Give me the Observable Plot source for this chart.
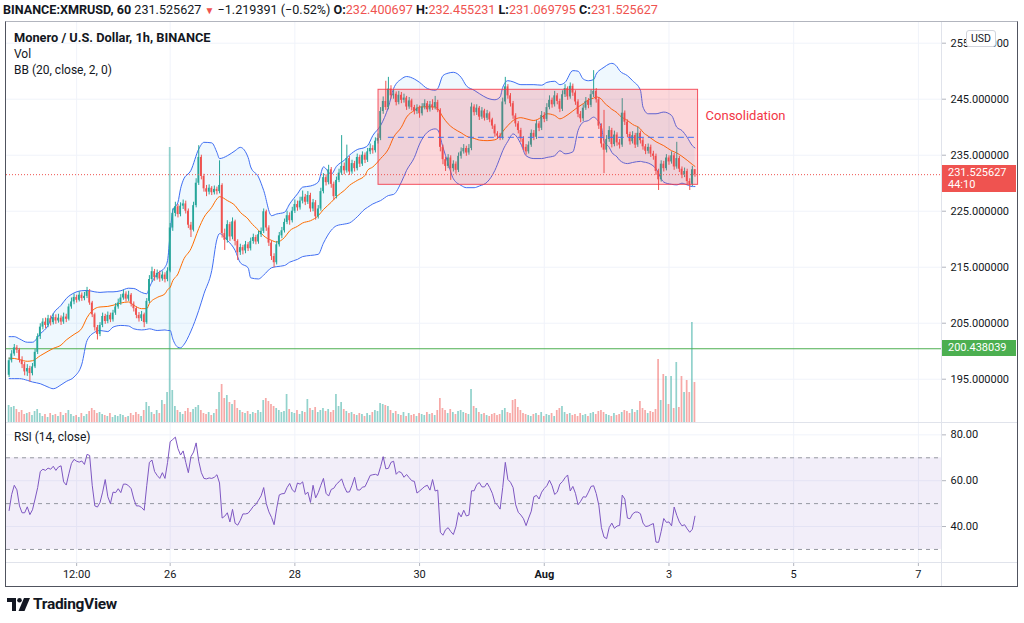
<!DOCTYPE html>
<html><head><meta charset="utf-8">
<script src="https://cdn.jsdelivr.net/npm/d3@7"></script>
<script src="https://cdn.jsdelivr.net/npm/@observablehq/plot@0.6"></script>
<style>
body{margin:0;background:#fff;font-family:Roboto,"Open Sans",sans-serif;color:#131722}
#wrap{position:relative;width:1024px;height:623px;overflow:hidden;background:#fff}
#wrap svg.plot{position:absolute;left:0;top:0}
.abs{position:absolute;white-space:nowrap}
.r{color:#ef5350}
</style></head><body><div id="wrap"></div>
<script>
// ---------- DATA ----------
const symbolTitle = "Monero / U.S. Dollar, 1h, BINANCE";
const headerParts = ["BINANCE:XMRUSD, 60", "231.525627", "\u22121.219391 (\u22120.52%)", "232.400697", "232.455231", "231.069795", "231.525627"];
const firstTime = "2021-07-23T10:00:00Z";     // first hourly candle
const firstOpen = 195.7;
const close = [
198.3,199.5,200.6,200.2,198.4,197.6,196.3,196.9,196.0,197.2,
199.8,202.6,204.3,205.2,204.6,205.8,205.1,206.0,205.4,205.9,
205.2,206.1,205.7,207.9,208.8,209.6,209.1,210.0,209.4,209.8,
210.7,208.6,206.5,204.2,203.0,204.6,206.2,205.3,206.4,205.6,
206.8,207.9,208.6,209.5,210.2,209.3,210.0,208.4,207.6,206.4,
205.8,206.5,205.1,208.9,212.8,214.2,213.1,213.9,212.9,213.6,
212.8,214.3,222.0,224.6,225.8,224.4,225.9,226.3,225.0,222.5,
221.6,226.0,230.0,234.6,231.2,229.0,228.4,229.1,228.3,228.9,
228.5,229.6,221.0,219.8,222.6,220.4,223.1,219.6,217.6,218.5,
217.9,219.0,218.3,219.6,220.3,219.5,220.8,221.4,224.9,222.0,
219.3,216.9,215.8,219.0,220.6,221.5,223.0,224.2,223.3,225.0,
226.2,225.6,226.8,227.5,226.6,227.8,225.4,226.5,224.0,225.4,
228.5,231.0,230.1,232.4,229.8,227.6,230.5,231.8,233.0,232.2,
234.4,232.0,233.5,232.6,234.6,233.4,235.0,234.1,235.6,236.2,
235.8,237.5,238.0,242.8,244.6,243.5,246.8,245.6,245.9,244.4,
245.7,244.8,245.2,243.6,244.7,243.5,242.8,243.4,242.4,243.6,
244.2,243.1,244.0,243.5,244.4,243.0,236.4,234.2,233.0,234.5,
232.6,233.4,232.3,234.8,235.6,236.2,235.4,236.2,243.6,242.6,
243.4,241.8,242.9,241.6,242.4,241.3,240.2,238.8,238.4,238.1,
244.5,247.2,245.6,244.2,242.0,240.6,239.4,237.9,236.4,235.6,
236.8,238.9,238.2,240.6,239.8,242.1,241.4,243.5,244.8,244.0,
245.6,244.6,243.2,245.8,246.9,245.4,247.3,246.1,244.5,242.3,
241.5,243.4,244.6,243.9,245.8,246.4,244.9,240.2,237.0,235.9,
237.8,239.4,236.9,238.6,237.2,236.8,242.5,240.9,238.7,237.4,
238.5,236.8,238.9,237.6,236.5,235.7,236.4,235.2,234.8,232.1,
230.6,233.4,232.6,234.5,233.8,234.9,232.9,234.4,232.5,231.4,
232.1,230.3,229.8,232.400697,231.525627];
const high = [
198.8,200.1,201.2,201.0,200.5,199.0,198.0,197.6,197.3,197.8,
200.3,203.1,204.9,205.8,205.9,206.4,206.3,206.7,206.5,206.6,
206.3,206.8,206.6,208.4,209.5,210.2,210.0,210.6,210.4,210.5,
211.4,211.0,208.9,206.8,204.6,205.1,206.8,206.6,207.0,206.8,
207.3,208.5,209.3,210.1,210.9,210.6,210.7,210.3,208.8,207.9,
206.9,207.1,206.8,209.4,213.5,215.0,214.6,214.5,214.3,214.2,
214.0,214.9,222.8,225.4,226.6,226.2,226.5,227.0,226.8,225.4,
223.0,226.6,230.8,236.7,235.0,231.6,229.6,229.7,229.4,229.5,
229.3,234.0,229.9,221.8,223.3,223.0,223.8,223.4,219.9,219.1,
218.9,219.6,219.4,220.2,220.9,220.7,221.4,222.0,225.4,225.2,
222.4,219.7,217.4,219.6,221.2,222.1,223.6,225.0,224.7,225.7,
227.0,226.8,227.5,228.6,228.0,228.5,228.2,227.1,226.9,226.0,
229.1,231.7,231.5,233.2,232.8,230.2,231.1,232.5,238.5,233.6,
236.8,234.8,234.1,233.9,235.2,235.0,235.6,235.4,236.2,237.0,
236.7,238.1,238.8,243.5,245.4,248.2,248.9,247.4,246.6,246.3,
246.4,246.2,245.9,245.5,245.3,245.0,243.9,244.0,243.8,244.2,
244.9,244.6,244.6,244.9,245.5,244.8,243.3,236.8,234.6,235.1,
234.9,234.0,233.8,235.4,236.3,236.9,236.6,236.9,244.3,244.0,
244.0,243.7,243.5,243.2,243.0,242.7,241.6,240.5,239.2,238.9,
245.2,248.9,247.6,246.0,244.6,242.4,241.0,239.8,238.3,236.9,
237.4,239.5,239.4,241.2,241.0,242.8,242.6,244.2,245.6,245.2,
246.4,246.0,245.0,246.5,247.6,247.2,247.9,247.7,246.5,244.9,
242.8,244.0,245.3,245.1,246.6,250.1,246.9,245.3,240.6,243.0,
238.5,240.1,239.8,239.3,239.0,237.8,245.1,242.9,241.3,239.1,
239.2,238.9,240.0,239.3,238.0,236.9,237.0,236.8,235.7,235.2,
232.5,234.0,233.9,235.1,234.9,235.6,235.3,237.3,234.8,232.9,
232.7,232.5,230.8,233.0,232.455231];
const low = [
195.3,197.9,199.1,199.6,197.9,196.9,195.6,195.5,194.5,195.6,
196.9,199.4,202.1,203.8,204.0,204.2,204.5,204.7,204.8,205.0,
204.6,204.8,205.1,205.4,207.5,208.3,208.6,208.8,208.9,209.0,
209.4,208.2,206.0,203.6,202.0,202.6,204.2,204.8,204.9,205.1,
205.2,206.4,207.5,208.2,209.1,208.8,208.9,207.9,207.0,205.8,
205.2,205.3,204.2,204.8,208.5,212.3,212.5,212.7,212.3,212.5,
212.2,212.4,214.0,221.4,224.0,223.8,224.0,225.3,224.5,221.9,
220.3,221.3,225.6,229.6,230.6,228.4,227.6,227.9,227.8,227.9,
227.9,228.1,220.2,218.0,219.3,219.6,219.9,218.8,216.2,217.1,
217.2,217.4,217.8,217.9,219.1,219.0,219.1,220.3,221.0,221.4,
218.7,216.2,214.9,215.4,218.6,220.1,221.1,222.6,222.5,222.9,
224.6,225.0,225.2,226.3,226.0,226.2,224.8,224.9,223.4,223.6,
225.0,228.1,229.5,229.7,229.1,226.9,227.2,230.1,231.4,231.5,
231.8,231.4,231.6,232.0,232.2,232.8,233.0,233.5,233.7,235.1,
235.2,235.4,237.0,237.6,242.3,243.0,243.1,245.0,245.0,243.8,
244.0,244.2,244.3,243.0,243.2,242.9,242.2,242.3,241.6,242.0,
243.1,242.6,242.7,243.0,243.1,242.6,235.6,233.3,232.1,232.6,
230.5,232.0,231.6,231.9,234.3,235.2,234.8,235.0,235.8,242.0,
242.1,241.2,241.4,241.1,241.2,240.8,239.6,238.2,237.8,237.6,
237.7,244.0,245.0,243.6,241.4,240.0,238.8,237.3,235.8,235.0,
235.2,236.4,237.6,237.8,239.2,239.4,240.8,241.0,243.1,243.4,
243.6,244.0,242.6,242.8,245.3,244.8,245.0,245.5,243.9,241.7,
240.8,241.0,243.0,243.3,243.5,245.3,244.3,239.6,236.3,231.7,
235.4,237.3,236.3,236.5,236.6,236.1,236.4,240.3,238.1,236.8,
237.0,236.2,236.4,237.0,235.9,235.1,235.2,234.6,234.1,231.4,
228.7,230.2,232.0,232.2,233.2,233.4,232.3,232.5,231.9,230.8,
231.0,229.7,228.7,229.4,231.069795];
const volume = [
1700,1500,1600,1300,1000,1200,800,900,1000,700,
1100,1300,900,600,800,500,900,700,800,600,
1000,700,900,1200,800,600,700,500,900,600,
800,1100,1400,1200,900,1000,800,700,600,900,
500,700,600,800,700,500,600,900,700,1000,
800,600,1200,2000,1600,1000,800,1200,900,2200,
1800,3000,27500,3200,1600,1200,1000,800,1100,1400,
1000,1300,1500,1700,1200,900,800,1000,700,900,
1300,3000,3800,2400,2700,2000,1800,2200,1400,1200,
1000,900,1100,800,1000,900,1200,1000,2200,2400,
2100,1800,1600,1400,1200,1000,1100,2800,1300,1000,
900,1200,800,1100,1000,2300,1400,1200,1500,1000,
1200,1400,1100,1300,1000,1200,2800,1600,2000,1300,
1100,900,1000,800,700,900,800,600,900,700,
1000,1200,1100,1900,1800,1700,1600,1200,900,1100,
800,700,1000,600,900,700,800,600,900,800,
700,1000,800,900,700,1200,2400,1400,1200,900,
1300,1000,800,1100,1200,1000,900,800,3300,1600,
1400,1000,800,900,700,600,800,900,700,800,
1200,1400,1000,900,2200,2300,1500,1200,900,800,
700,600,800,900,700,1000,600,800,700,900,
600,1200,1400,1600,1000,800,900,700,800,600,
900,700,800,600,900,1000,800,1100,1200,1000,
800,700,600,900,700,800,1000,1200,1100,900,
1300,1000,1200,2100,1400,1200,900,1100,1000,1300,
6300,2200,4800,4600,1800,4600,1400,6000,1500,4600,
3000,4200,3000,10000,4000];
const rsi = [
47,54,58,56,49,46,46,48.6,45.2,47.3,
52,57,64,65,64.5,65.5,65,66.3,64.5,66,
66.5,59.5,58.1,63,67.5,69.3,68.5,68.1,68.6,67.1,
71.5,71,58,49,48.5,50.5,55,60.5,53,50,
55,54.8,56.5,54.8,58.5,58.5,57.8,56.5,52,49,
49,48.3,47.1,58,68,69,64,62.3,61,63.5,
61,68,77,78,79,74,71.2,73,68,63.5,
70.5,72.5,76.5,68.5,63.5,61,60.8,61.2,61,61.5,
62.6,59,43.7,44.5,46,42,47.5,41.4,40.6,42.7,
45.5,45.5,45.8,47.2,48.8,49.6,51.5,53.4,57,50,
46.4,44,40.8,48,53.8,54.3,54.4,57,58.8,56,
55,59,58.5,59.5,54,55,50.5,58,52.5,54.8,
58,61,54.5,53.3,56.2,56.7,58.5,59.5,60.8,57.5,
55,55.1,58,61.5,56,55.9,57.2,57.4,59.8,62.3,
62.6,62.8,62.3,66.1,70.5,65.2,65.4,68,68.5,62.8,
64,63.5,61.5,62.7,61.3,60,59.7,54.6,55.5,56.5,
57.5,58,55.9,60.5,55.5,55.9,37.5,36.2,38.6,39.5,
37.8,36.5,40,46.1,44.2,47.1,44.6,45,55.6,55.6,
58.3,59.2,57.3,57.3,59,57,54.5,50.5,49.3,47.6,
57,68,60.5,59.3,57,49.5,46.2,45,43.4,40.4,
43.7,46.7,53,53.6,52,55,56.6,57.8,60.2,57.8,
54,55,58.5,59.6,61.3,62.5,55.5,57.5,54.5,49.5,
51,53,52.8,55,57.5,57.8,54.4,49.3,39.5,35.4,
34.7,39.6,41.5,39.2,40.2,40.5,53.7,52,43.7,43.4,
45.5,46.3,46.3,45.6,41.5,40,40.2,40.8,41.3,33.2,
33.1,37.9,43.5,41.8,42,40.3,48.5,44.9,42,40.3,
40.8,39,37.5,38.8,44.5];
// Bollinger Bands (20, close, 2) at these candle numbers
const bbIdx = [
0,2,4,7,9,12,15,17,20,22,
25,28,30,33,35,38,40,43,46,48,
51,53,54,57,60,61,62,63,65,66,
67,70,73,75,78,80,81,84,87,89,
92,93,96,98,101,103,106,108,111,113,
116,119,121,124,126,129,131,134,137,138,
140,143,146,148,151,153,156,158,161,164,
165,167,169,171,174,176,179,181,184,187,
189,190,192,194,197,199,202,205,207,210,
212,214,217,219,221,223,225,226,228,229,
231,232,234,235,238,240,243,244,246,249,
252,255,257,259,261,263,264];
const bbUpper = [
202.6,202.6,202.2,201.6,201.6,203.1,204.6,206.7,208.2,209.4,
210.4,210.8,210.85,210.6,210.5,210.6,210.6,210.8,211.25,211.2,
210.5,210.25,211.4,213.8,215.0,216.2,221.0,225.1,226.6,229.0,
230.5,232.3,236.1,237.3,237.2,235.5,234.4,234.9,235.8,236.4,
234.6,232.9,231.1,228.7,224.2,224.5,224.8,226.3,228.1,229.3,
229.5,230.2,232.9,231.6,233.0,234.1,235.0,236.0,236.4,236.7,
238.5,240.3,243.6,246.9,248.6,249.05,248.6,248.0,246.9,246.6,
246.9,249.2,249.65,249.8,248.9,247.4,246.6,246.0,245.2,244.9,
245.4,247.1,248.3,248.1,247.6,247.6,247.6,247.5,248.0,248.2,
247.6,248.0,250.1,250.0,248.6,248.3,248.5,249.5,250.4,250.7,
251.3,251.4,250.8,250.1,249.2,248.3,246.6,243.6,242.4,242.4,
242.7,242.1,240.0,239.4,238.2,236.7,236.3];
const bbBasis = [
198.75,198.7,198.5,198.2,198.3,199.2,200.0,200.5,201.1,202.0,
203.0,204.1,206.0,207.6,207.9,208.0,208.2,208.6,208.8,208.2,
207.6,207.6,208.5,209.6,210.25,211.0,211.4,212.6,213.8,215.0,
216.2,218.3,221.9,223.9,225.7,227.2,227.6,226.9,226.0,224.8,
223.6,223.0,221.6,220.6,219.8,219.5,220.3,221.5,222.3,222.9,
223.3,224.2,225.3,226.6,227.6,228.7,229.6,230.5,231.4,232.3,
232.9,234.4,236.1,238.2,240.0,241.8,243.0,243.6,243.65,243.6,
243.3,241.8,240.6,239.8,239.0,238.4,238.0,237.7,237.6,237.75,
238.5,239.2,240.3,241.2,241.7,241.5,241.2,241.8,242.4,242.1,
241.5,241.9,242.9,243.6,244.2,244.9,245.2,245.4,245.0,244.4,
243.6,243.2,242.6,242.1,241.2,240.5,239.7,239.1,238.4,237.4,
236.7,235.8,235.4,234.8,234.1,233.35,233.0];
const bbLower = [
195.1,195.1,195.1,194.8,194.5,194.2,193.6,193.3,194.0,194.6,
195.4,197.7,201.9,203.4,203.7,203.5,204.3,204.6,204.5,204.0,
203.8,203.9,204.0,203.7,203.8,203.7,203.7,202.2,200.7,200.6,
201.0,203.6,207.3,210.25,214.4,220.0,221.0,219.8,218.0,215.8,
214.9,213.1,212.9,213.6,214.9,215.1,215.3,215.9,216.4,216.9,
217.1,217.3,219.3,221.6,222.4,222.7,222.9,224.0,225.4,225.7,
226.3,226.9,227.8,228.0,230.2,232.3,234.6,237.0,239.1,239.7,
239.5,236.4,233.5,230.8,229.6,229.2,229.2,229.5,230.2,232.3,
234.6,235.8,237.5,238.8,237.0,234.9,234.4,234.4,234.6,234.9,
235.8,235.25,235.6,239.4,240.9,241.2,241.8,241.5,240.0,237.5,
236.4,235.5,234.7,234.1,233.5,233.7,233.9,233.8,233.6,232.6,
230.2,229.8,229.7,230.0,229.7,229.4,229.4];
// drawings
const zone = {start:"2021-07-29T08:12:00Z", end:"2021-08-03T11:12:00Z", top:246.68, bottom:229.71, midStart:"2021-07-29T12:00:00Z"};
const zoneLabel = {time:"2021-08-03T14:06:00Z", price:242.1, text:"Consolidation"};
const levelLine = 200.438039;
const countdown = "44:10";
// axes
const priceTicks = [195,205,215,225,235,245,255];
const rsiTicks = [40,60,80];
const rsiLevels = [30,50,70];
const timeTickDates = ["2021-07-24T12:00:00Z","2021-07-26T00:00:00Z","2021-07-28T00:00:00Z","2021-07-30T00:00:00Z","2021-08-01T00:00:00Z","2021-08-03T00:00:00Z","2021-08-05T00:00:00Z","2021-08-07T00:00:00Z"];
const timeTickLabels = ["12:00","26","28","30","Aug","3","5","7"];
const xDomain = ["2021-07-23T09:00:00Z","2021-08-07T08:54:00Z"];
const priceDomain = [187.27, 258.875];
const volumeDomain = [0, 40100];
const rsiDomain = [24.3, 85.4];

// ---------- BUILD ----------
const H = 3600e3;
const t0 = new Date(firstTime).getTime();
const tAt = i => new Date(t0 + i*H);
const UP = "#26a69a", DOWN = "#ef5350";
const candles = close.map((c,i)=>({t:tAt(i), o: i===0 ? firstOpen : close[i-1], h:high[i], l:low[i], c, v:volume[i], r:rsi[i]}));
candles.forEach(d=>{d.up = d.c >= d.o; d.x1 = new Date(+d.t - 0.33*H); d.x2 = new Date(+d.t + 0.33*H);});
const bb = bbIdx.map((i,k)=>({t:tAt(i), u:bbUpper[k], b:bbBasis[k], l:bbLower[k]}));
const xd = xDomain.map(s=>new Date(s));
const tickDates = timeTickDates.map(s=>new Date(s));
const labelMap = new Map(tickDates.map((d,i)=>[+d, timeTickLabels[i]]));

const W = 1024, HT = 623;
const FONT = "Roboto, 'Open Sans', sans-serif";
const baseStyle = {background:"transparent", fontFamily:FONT, fontSize:"11px", color:"#131722", overflow:"visible"};
const priceFrame = {width:W, height:HT, marginTop:21, marginBottom:201, marginLeft:6, marginRight:83};
const wrap = document.getElementById("wrap");
const GRID = "#f0f3fa";

function add(p){ p.classList.add("plot"); wrap.appendChild(p); return p; }

// layer 1: grids + band fill
add(Plot.plot({...priceFrame, style:baseStyle,
  x:{type:"utc", domain:xd, axis:null},
  y:{domain:priceDomain, axis:null},
  marks:[
    Plot.gridY(priceTicks, {stroke:GRID, strokeOpacity:1}),
    Plot.gridX(tickDates, {stroke:GRID, strokeOpacity:1}),
    Plot.areaY(bb, {x:"t", y1:"l", y2:"u", fill:"#2196f3", fillOpacity:0.07, curve:"monotone-x"})
  ]}));

// layer 2: volume
add(Plot.plot({...priceFrame, style:baseStyle,
  x:{type:"utc", domain:xd, axis:null},
  y:{domain:volumeDomain, axis:null},
  marks:[
    Plot.rectY(candles, {x1:"x1", x2:"x2", y:"v", fill:d=>d.up?UP:DOWN, fillOpacity:0.5})
  ]}));

// layer 3: price
const pricePlot = add(Plot.plot({...priceFrame, style:baseStyle,
  x:{type:"utc", domain:xd, axis:null},
  y:{domain:priceDomain},
  marks:[
    Plot.ruleY([levelLine], {stroke:"#4caf50", strokeWidth:1}),
    Plot.line(bb, {x:"t", y:"u", stroke:"#3f6ef3", strokeWidth:1, curve:"monotone-x"}),
    Plot.line(bb, {x:"t", y:"l", stroke:"#3f6ef3", strokeWidth:1, curve:"monotone-x"}),
    Plot.line(bb, {x:"t", y:"b", stroke:"#ff6d00", strokeWidth:1, curve:"monotone-x"}),
    Plot.ruleX(candles, {x:"t", y1:"l", y2:"h", stroke:d=>d.up?UP:DOWN, strokeWidth:1}),
    Plot.rect(candles, {x1:"x1", x2:"x2", y1:d=>Math.min(d.o,d.c), y2:d=>Math.max(d.o,d.c), fill:d=>d.up?UP:DOWN}),
    Plot.rect([zone], {x1:d=>new Date(d.start), x2:d=>new Date(d.end), y1:"bottom", y2:"top", fill:"#f23645", fillOpacity:0.2, stroke:"#f23645", strokeOpacity:0.85, strokeWidth:1}),
    Plot.ruleY([zone], {y:d=>(d.top+d.bottom)/2, x1:d=>new Date(d.midStart), x2:d=>new Date(d.end), stroke:"#3f6ef3", strokeWidth:1, strokeDasharray:"6,4"}),
    Plot.ruleY([close[close.length-1]], {stroke:"#ef5350", strokeWidth:1, strokeDasharray:"1,2"}),
    Plot.text([zoneLabel], {x:d=>new Date(d.time), y:"price", text:"text", fill:"#f23645", fontSize:13, textAnchor:"start"}),
    Plot.axisY(priceTicks, {anchor:"right", tickSize:4, tickPadding:5, stroke:"#b2b5be", tickFormat:d=>d.toFixed(6), fontSize:11})
  ]}));

// layer 4: RSI pane + time axis
const rsiPlot = add(Plot.plot({width:W, height:HT, marginTop:422, marginBottom:61, marginLeft:6, marginRight:83, style:baseStyle,
  x:{type:"utc", domain:xd},
  y:{domain:rsiDomain},
  marks:[
    Plot.gridY(rsiTicks, {stroke:GRID, strokeOpacity:1}),
    Plot.gridX(tickDates, {stroke:GRID, strokeOpacity:1}),
    Plot.rect([{a:xd[0], b:xd[1], lo:rsiLevels[0], hi:rsiLevels[2]}], {x1:"a", x2:"b", y1:"lo", y2:"hi", fill:"#7e57c2", fillOpacity:0.1}),
    Plot.ruleY(rsiLevels, {stroke:"#9598a1", strokeDasharray:"4,4", strokeWidth:1}),
    Plot.line(candles, {x:"t", y:"r", stroke:"#7e57c2", strokeWidth:1}),
    Plot.axisY(rsiTicks, {anchor:"right", tickSize:4, tickPadding:5, stroke:"#b2b5be", tickFormat:d=>d.toFixed(2), fontSize:11}),
    Plot.axisX(tickDates, {anchor:"bottom", tickSize:4, tickPadding:4, stroke:"#b2b5be", tickFormat:d=>labelMap.get(+d), fontSize:11})
  ]}));
d3.select(rsiPlot).selectAll("text").filter(function(){return this.textContent==="Aug";}).attr("font-weight","bold");

// ---------- frame & overlays ----------
function div(style, html){ const e=document.createElement("div"); e.className="abs"; e.style.cssText=style; if(html!==undefined) e.innerHTML=html; wrap.appendChild(e); return e; }
div("left:5px;top:21px;width:1011px;height:564px;border:1px solid #50535e;border-top-color:#b2b5be;");
div("left:941px;top:22px;width:1px;height:564px;background:#e0e3eb;");
div("left:6px;top:422px;width:1011px;height:1px;background:#e0e3eb;");
div("left:6px;top:562px;width:1011px;height:1px;background:#e0e3eb;");

// header
div("left:3px;top:2px;font-size:12.6px;line-height:16px;color:#131722;",
  `<b>${headerParts[0]}</b> ${headerParts[1]} <span class="r" style="font-size:10px">&#9660;</span> ${headerParts[2]} <b>O:</b><span class="r">${headerParts[3]}</span> <b>H:</b><span class="r">${headerParts[4]}</span> <b>L:</b><span class="r">${headerParts[5]}</span> <b>C:</b><span class="r">${headerParts[6]}</span>`);
div("left:14px;top:30px;font-size:12.8px;font-weight:bold;line-height:16px;", symbolTitle);
div("left:14px;top:46px;font-size:12px;line-height:16px;", "Vol");
div("left:14px;top:62px;font-size:12px;line-height:16px;", "BB (20, close, 2, 0)");
div("left:14px;top:429px;font-size:12px;line-height:16px;", "RSI (14, close)");

// price scale labels
const ys = pricePlot.scale("y");
const yLast = ys.apply(close[close.length-1]);
div(`left:942px;top:${yLast-9}px;width:74px;height:27px;background:#ef5350;color:#fff;font-size:11px;line-height:12px;padding:2px 0 0 6px;box-sizing:border-box;`,
  `${close[close.length-1].toFixed(6)}<br>${countdown}`);
const yLvl = ys.apply(levelLine);
div(`left:942px;top:${yLvl-8}px;width:74px;height:16px;background:#4caf50;color:#fff;font-size:11px;line-height:16px;padding-left:6px;box-sizing:border-box;`, levelLine.toFixed(6));
div("left:966px;top:30px;width:28px;height:15px;background:#fff;border:1px solid #d1d4dc;border-radius:3px;font-size:10.5px;line-height:15px;text-align:center;color:#131722;", "USD");

// logo
div("left:7px;top:597px;", `<svg width="24" height="14" viewBox="0 0 24 14"><path d="M0 0h9v13H5V4H0z" fill="#131722"/><circle cx="12.5" cy="2.3" r="2.3" fill="#131722"/><path d="M17 0h6l-5.5 13h-6z" fill="#131722"/></svg>`);
div("left:33px;top:594px;font-size:15.5px;font-weight:bold;letter-spacing:-0.3px;line-height:20px;color:#131722;", "TradingView");
</script></body></html>
